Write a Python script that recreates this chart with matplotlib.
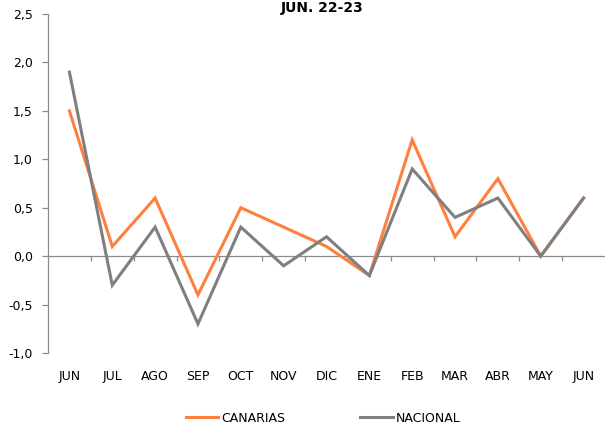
import numpy as np
import matplotlib
matplotlib.use("Agg")
import matplotlib.pyplot as plt

plt.rcParams.update({
    "font.family": ["DejaVu Sans"],
    "font.size": 9,
})

months = ["JUN", "JUL", "AGO", "SEP", "OCT", "NOV", "DIC",
          "ENE", "FEB", "MAR", "ABR", "MAY", "JUN"]
canarias = [1.5, 0.1, 0.6, -0.4, 0.5, 0.3, 0.1, -0.2, 1.2, 0.2, 0.8, 0.0, 0.6]
nacional = [1.9, -0.3, 0.3, -0.7, 0.3, -0.1, 0.2, -0.2, 0.9, 0.4, 0.6, 0.0, 0.6]
yticks = [-1.0, -0.5, 0.0, 0.5, 1.0, 1.5, 2.0, 2.5]

ORANGE = "#FF7F3F"
GRAY = "#7F7F7F"
AXIS = "#8C8C8C"

fig = plt.figure(figsize=(6.05, 4.3), dpi=100)
ax = fig.add_axes([48 / 605, 1 - 353 / 430, 557 / 605, 339 / 430])

x = np.arange(len(months))
ax.plot(x, canarias, color=ORANGE, linewidth=2.2, label="CANARIAS", solid_joinstyle="miter")
ax.plot(x, nacional, color=GRAY, linewidth=2.2, label="NACIONAL", solid_joinstyle="miter")

ax.set_xlim(-0.5, len(months) - 0.5)
ax.set_ylim(-1.0, 2.5)

# zero line with category-boundary ticks
ax.axhline(0, color=AXIS, linewidth=0.9, zorder=0)
ax.vlines(x[:-1] + 0.5, -0.045, 0, color=AXIS, linewidth=0.9, zorder=0)

for side in ["top", "right", "bottom"]:
    ax.spines[side].set_visible(False)
ax.spines["left"].set_color(AXIS)
ax.spines["left"].set_linewidth(0.9)

ax.set_yticks(yticks)
ax.set_yticklabels([f"{v:.1f}".replace(".", ",") for v in yticks])
ax.tick_params(axis="y", length=4, color=AXIS, width=0.9, pad=7, labelsize=9)

ax.set_xticks(x)
ax.set_xticklabels(months)
ax.tick_params(axis="x", length=0, pad=12, labelsize=9)

fig.text(322 / 605, 1 - 12 / 430, "JUN. 22-23", ha="center", va="baseline",
         fontsize=10, fontweight="bold")

fig.legend(loc="center", bbox_to_anchor=(323 / 605, 1 - 418 / 430), ncol=2,
           frameon=False, handlelength=2.6, handletextpad=0.25,
           columnspacing=6.0, fontsize=9)

fig.savefig("out.png", dpi=100)
